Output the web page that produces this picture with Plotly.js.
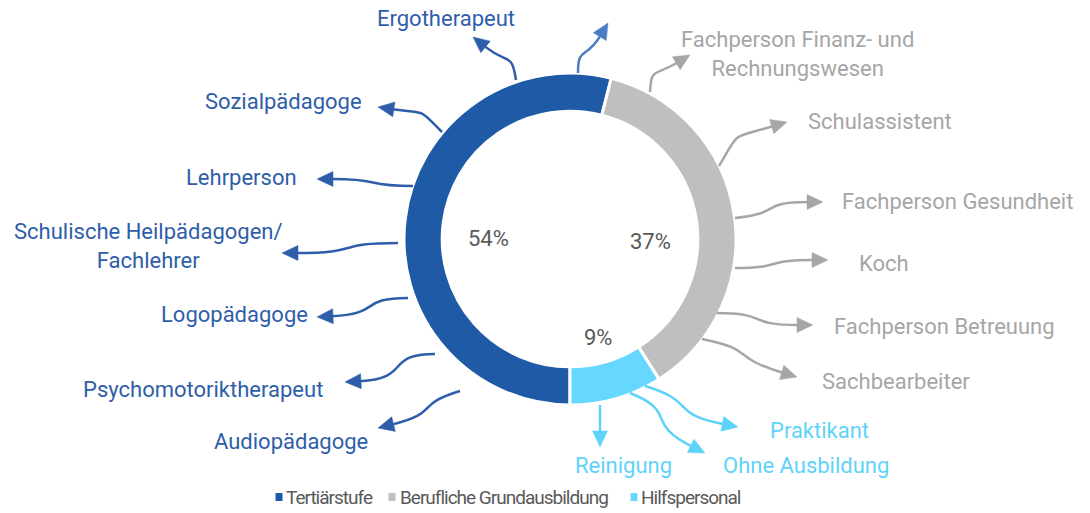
<!DOCTYPE html>
<html>
<head>
<meta charset="utf-8">
<script src="https://cdn.plot.ly/plotly-3.0.1.min.js"></script>
<style>html,body{margin:0;padding:0;background:#fff}#chart{width:1090px;height:513px}
text[style*="font-size: 19px"]{letter-spacing:-1px}</style>
</head>
<body>
<div id="chart"></div>
<script>
// ---- data ----
const categories = ['Tertiärstufe', 'Berufliche Grundausbildung', 'Hilfspersonal'];
const shares = [54, 37, 9];
const tertiaryJobs = ['Ergotherapeut', 'Sozialpädagoge', 'Lehrperson', 'Schulische Heilpädagogen/<br>Fachlehrer', 'Logopädagoge', 'Psychomotoriktherapeut', 'Audiopädagoge'];
const vocationalJobs = ['Fachperson Finanz- und<br>Rechnungswesen', 'Schulassistent', 'Fachperson Gesundheit', 'Koch', 'Fachperson Betreuung', 'Sachbearbeiter'];
const supportJobs = ['Praktikant', 'Ohne Ausbildung', 'Reinigung'];

// ---- styles ----
const sliceColors = ['#1F5AA6', '#BFBFBF', '#66D7FF'];
const labelColors = ['#2E5EA9', '#A6A6A6', '#5ED3FA'];
const extraArrowColor = '#4A7CC2';
const FONT = 'Roboto, Arial, sans-serif';
const W = 1090, H = 513;
const px = x => x / W, py = y => 1 - y / H;

// ---- layout geometry (pixels) ----
const cx = 570, cy = 239, R = 166;
const tertiaryArrows = [
  {s:[516,80], t:[473,37], d0:[-0.15,-1], d1:[-1,-0.8]},
  {s:[442,132], t:[378,107], d0:[-0.7,-0.7], d1:[-1,-0.15]},
  {s:[413,186], t:[317,179], d0:[-1,0], d1:[-1,0]},
  {s:[398,243], t:[282,253], d0:[-1,0], d1:[-1,0]},
  {s:[408,298], t:[317,317], d0:[-1,0], d1:[-1,0.05]},
  {s:[435,354], t:[345,382], d0:[-1,0], d1:[-1,0.05]},
  {s:[460,391], t:[378,428], d0:[-1,0.3], d1:[-1,0.25]}
];
const tertiaryLabels = [
  {x:446, y:18, xa:'center'}, {x:364, y:101, xa:'right'}, {x:299, y:177, xa:'right'},
  {x:148, y:246, xa:'center'}, {x:310, y:314, xa:'right'}, {x:325, y:389, xa:'right'}, {x:370, y:441, xa:'right'}
];
const extraArrow = {s:[578,73], t:[608,23], d0:[0,-1], d1:[0.6,-1]};
const vocationalArrows = [
  {s:[650,92], t:[690,55], d0:[0.05,-1], d1:[1,-0.6]},
  {s:[719,166], t:[787,122], d0:[0.5,-0.85], d1:[1,-0.3]},
  {s:[735,218], t:[823,202], d0:[1,-0.1], d1:[1,0]},
  {s:[735,268], t:[828,260], d0:[1,0], d1:[1,0]},
  {s:[717,313], t:[813,325], d0:[1,0], d1:[1,0]},
  {s:[702,339], t:[797,377], d0:[1,0.2], d1:[1,0.3]}
];
const vocationalLabels = [
  {x:797, y:54, xa:'center'}, {x:806, y:121, xa:'left'}, {x:840, y:201, xa:'left'},
  {x:857, y:263, xa:'left'}, {x:832, y:326, xa:'left'}, {x:820, y:381, xa:'left'}
];
const supportArrows = [
  {s:[645,386], t:[738,427], d0:[1,0.3], d1:[1,0.2]},
  {s:[630,393], t:[705,453], d0:[1,0.4], d1:[1,0.5]},
  {s:[600,405], t:[600,447], d0:[0,1], d1:[0,1]}
];
const supportLabels = [
  {x:768, y:430, xa:'left'}, {x:721, y:465, xa:'left'}, {x:623, y:465, xa:'center'}
];
const pctPos = [[488,239],[650,241],[598,337]];
const legendPos = [[279,286],[392,400],[634,641]];
const legendY = 497;

// ---- helpers ----
function norm(v){const l=Math.hypot(v[0],v[1]);return [v[0]/l,v[1]/l];}
function arrowShapes(a, color){
  const d0 = norm(a.d0), d1 = norm(a.d1);
  const head = 16, hw = 7.5;
  const b = [a.t[0]-d1[0]*head, a.t[1]-d1[1]*head];
  const L = Math.hypot(b[0]-a.s[0], b[1]-a.s[1]);
  const k = 0.65*L;
  const p1 = [a.s[0]+d0[0]*k, a.s[1]+d0[1]*k];
  const p2 = [b[0]-d1[0]*k, b[1]-d1[1]*k];
  const P = p => px(p[0]).toFixed(5)+','+py(p[1]).toFixed(5);
  const line = {type:'path', xref:'paper', yref:'paper',
    path:'M'+P(a.s)+' C'+P(p1)+' '+P(p2)+' '+P([b[0]+d1[0]*1, b[1]+d1[1]*1]),
    line:{color:color, width:2.5}, fillcolor:'rgba(0,0,0,0)'};
  const n = [-d1[1], d1[0]];
  const l1 = [b[0]+n[0]*hw, b[1]+n[1]*hw], l2 = [b[0]-n[0]*hw, b[1]-n[1]*hw];
  const tri = {type:'path', xref:'paper', yref:'paper',
    path:'M'+P(a.t)+' L'+P(l1)+' L'+P(l2)+' Z',
    line:{color:color, width:0.5}, fillcolor:color};
  return [line, tri];
}

const shapes = [];
const annotations = [];
function addGroup(names, arrows, labels, color){
  arrows.forEach(a => shapes.push(...arrowShapes(a, color)));
  names.forEach((n,i) => {
    const p = labels[i];
    annotations.push({xref:'paper', yref:'paper', x:px(p.x), y:py(p.y), xanchor:p.xa, yanchor:'middle',
      text:n, showarrow:false, align:'center', font:{family:FONT, size:22, color:color}});
  });
}
addGroup(tertiaryJobs, tertiaryArrows, tertiaryLabels, labelColors[0]);
addGroup(vocationalJobs, vocationalArrows, vocationalLabels, labelColors[1]);
addGroup(supportJobs, supportArrows, supportLabels, labelColors[2]);
shapes.push(...arrowShapes(extraArrow, extraArrowColor));

const total = shares.reduce((a,b)=>a+b,0);
shares.forEach((v,i) => {
  annotations.push({xref:'paper', yref:'paper', x:px(pctPos[i][0]), y:py(pctPos[i][1]), xanchor:'center', yanchor:'middle',
    text:Math.round(v/total*100)+'%', showarrow:false, font:{family:FONT, size:22, color:'#595959'}});
});

// custom legend
categories.forEach((c,i) => {
  const [sx, tx] = legendPos[i];
  shapes.push({type:'rect', xref:'paper', yref:'paper', x0:px(sx-3.5), x1:px(sx+3.5), y0:py(legendY+4), y1:py(legendY-4),
    fillcolor:sliceColors[i], line:{width:0}});
  annotations.push({xref:'paper', yref:'paper', x:px(tx-2), y:py(legendY), xanchor:'left', yanchor:'middle',
    text:c, showarrow:false, font:{family:FONT, size:19, color:'#595959'}});
});

const data = [{
  type:'pie', values:shares, labels:categories, hole:0.77, sort:false, direction:'clockwise', rotation:180,
  textinfo:'none', showlegend:false,
  marker:{colors:sliceColors, line:{color:'#FFFFFF', width:3}},
  domain:{x:[(cx-R)/W, (cx+R)/W], y:[(H-cy-R)/H, (H-cy+R)/H]}
}];

const layout = {
  width:W, height:H, margin:{l:0, r:0, t:0, b:0},
  paper_bgcolor:'#FFFFFF', plot_bgcolor:'#FFFFFF',
  showlegend:false, shapes:shapes, annotations:annotations
};
Plotly.newPlot('chart', data, layout, {displayModeBar:false, staticPlot:true});
</script>
</body>
</html>
